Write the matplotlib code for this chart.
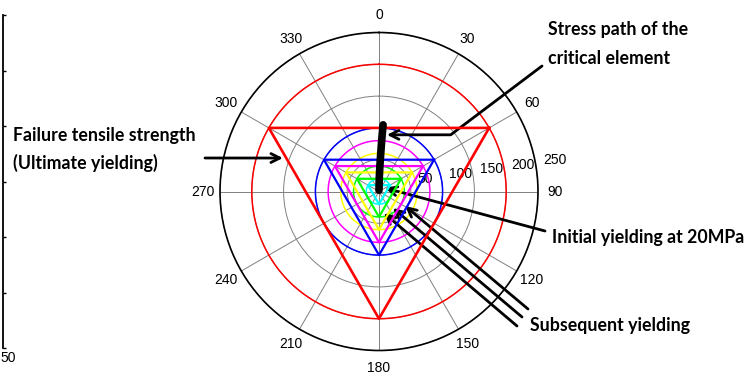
import numpy as np
import matplotlib
matplotlib.use("Agg")
import matplotlib.pyplot as plt

W, H = 747, 387

# yield surfaces (radius in MPa) and their colours
surf_r = [200, 100, 80, 60, 40, 20]
surf_colors = ['#ff0000', '#0000ff', '#ff00ff', '#ffff00', '#00ff00', '#00ffff']
tri_deg = [60, 180, 300, 60]

# stress path of the critical element
path_deg = [0, 1, 2, 2.6, 3, 3.4, 3.5]
path_r = [2, 20, 40, 60, 80, 100, 105]

r_ticks = [50, 100, 150, 200, 250]
theta_ticks = list(range(0, 360, 30))

# leftover axis of the neighbouring plot
left_ticks = [0, 1, 2, 3, 4, 5, 6]
left_xlabel = '50'


def fp(x, y):
    # pixel position -> figure fraction
    return (x / W, 1 - y / H)


plt.rcParams['font.family'] = ['Liberation Sans', 'DejaVu Sans']
fig = plt.figure(figsize=(W / 100, H / 100), dpi=100)

cx, cy, R = 379, 191.5, 159
ax = fig.add_axes([(cx - R) / W, (H - cy - R) / H, 2 * R / W, 2 * R / H], projection='polar')
ax.set_theta_zero_location('N')
ax.set_theta_direction(-1)
ax.set_ylim(0, 250)
ax.set_yticks(r_ticks)
ax.set_yticklabels([])
ax.set_thetagrids(theta_ticks, [str(t) for t in theta_ticks], fontsize=10)
ax.tick_params(axis='x', pad=2)
ax.grid(color='#808080', lw=0.7)
ax.spines['polar'].set_color('black')
ax.spines['polar'].set_linewidth(1.2)

for t in r_ticks:
    ax.text(np.deg2rad(81.5), t + 11, str(t), fontsize=10, ha='left', va='bottom')

circ = np.linspace(0, 2 * np.pi, 361)
for r, c in zip(surf_r, surf_colors):
    lw = 1.6 if r == 200 else 1.3
    ax.plot(circ, np.full_like(circ, r), color=c, lw=1.1, zorder=3)
    ax.plot(np.deg2rad(tri_deg), [r] * len(tri_deg), color=c, lw=lw + 0.3, zorder=4)

ax.plot(np.deg2rad(path_deg), path_r, color='black', lw=5.5, solid_capstyle='round', zorder=6)

bold = dict(family=['Lato', 'DejaVu Sans'], fontweight='bold', fontsize=12.8)
ap = dict(arrowstyle='->', lw=2, color='black', mutation_scale=16, shrinkA=0, shrinkB=0)

fig.text(*fp(548, 30), 'Stress path of the', va='center', **bold)
fig.text(*fp(548, 58), 'critical element', va='center', **bold)
ax.annotate('', xy=(np.deg2rad(8), 90), xycoords='data',
            xytext=fp(542, 66), textcoords='figure fraction',
            arrowprops=dict(ap, connectionstyle='angle,angleA=37,angleB=0,rad=0'))

fig.text(*fp(13, 136), 'Failure tensile strength', va='center', **bold)
fig.text(*fp(13, 163), '(Ultimate yielding)', va='center', **bold)
ax.annotate('', xy=(np.deg2rad(289.2), 160), xytext=fp(205, 158),
            textcoords='figure fraction', arrowprops=ap)

fig.text(*fp(552, 237), 'Initial yielding at 20MPa', va='center', **bold)
ax.annotate('', xy=(np.deg2rad(60), 11), xytext=fp(545, 231),
            textcoords='figure fraction', arrowprops=ap)

fig.text(*fp(530, 325), 'Subsequent yielding', va='center', **bold)
sub_tips = [(119, 47), (140, 34), (167, 35)]
sub_starts = [(528, 309), (522, 317), (517, 326)]
for (th, r), (sx, sy) in zip(sub_tips, sub_starts):
    ax.annotate('', xy=(np.deg2rad(th), r), xytext=fp(sx, sy),
                textcoords='figure fraction', arrowprops=ap)

# strip of the cut-off plot on the left
lax = fig.add_axes([-0.2, 1 - 348 / H, 0.2 + 3 / W, (348 - 15) / H])
lax.set_ylim(left_ticks[0], left_ticks[-1])
lax.set_yticks(left_ticks)
lax.yaxis.tick_right()
lax.tick_params(axis='y', direction='out', length=2.5, width=1, labelright=False)
lax.set_xticks([])
for s in ['left', 'top', 'bottom']:
    lax.spines[s].set_visible(False)
lax.spines['right'].set_linewidth(1.3)
lax.patch.set_visible(False)
fig.text(*fp(0, 358), left_xlabel, fontsize=10, ha='left', va='center')

fig.savefig('out.png', dpi=100)
